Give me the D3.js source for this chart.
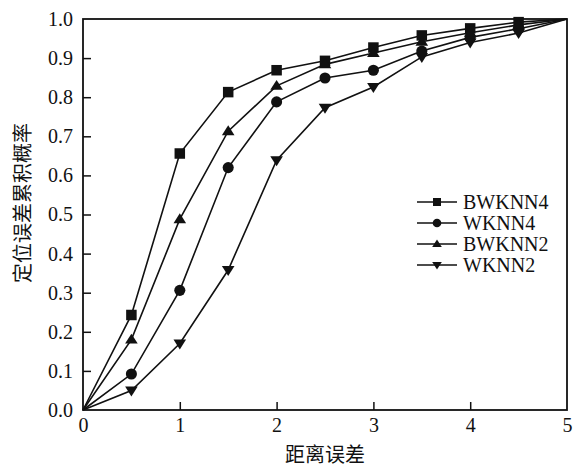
<!DOCTYPE html>
<html>
<head>
<meta charset="utf-8">
<script src="https://cdn.jsdelivr.net/npm/d3@7"></script>
<style>
  body { margin: 0; background: #fff; }
  svg { display: block; font-family: "Liberation Serif", "Times New Roman", "Noto Sans CJK SC", serif; }
</style>
</head>
<body>
<div id="chart"></div>
<script>
// ---- data ----
const distances = [0, 0.5, 1, 1.5, 2, 2.5, 3, 3.5, 4, 4.5, 5];
const bwknn4 = [0, 0.243, 0.656, 0.813, 0.869, 0.893, 0.927, 0.958, 0.976, 0.992, 1.0];
const wknn4  = [0, 0.092, 0.306, 0.620, 0.788, 0.849, 0.869, 0.918, 0.953, 0.975, 1.0];
const bwknn2 = [0, 0.180, 0.488, 0.713, 0.829, 0.884, 0.913, 0.942, 0.965, 0.985, 1.0];
const wknn2  = [0, 0.050, 0.170, 0.358, 0.639, 0.773, 0.826, 0.903, 0.940, 0.964, 1.0];
const seriesNames = ["BWKNN4", "WKNN4", "BWKNN2", "WKNN2"];
const seriesSymbols = ["square", "circle", "triangle", "triangleDown"];
const xTicks = [0, 1, 2, 3, 4, 5];
const yTicks = [0, 0.1, 0.2, 0.3, 0.4, 0.5, 0.6, 0.7, 0.8, 0.9, 1.0];
const xTitle = "距离误差";
const yTitle = "定位误差累积概率";

const series = [bwknn4, wknn4, bwknn2, wknn2].map((vals, i) => ({
    name: seriesNames[i],
    symbol: seriesSymbols[i],
    points: distances.map((d, j) => ({ x: d, y: vals[j] }))
}));

// ---- layout ----
const W = 575, H = 468;
const margin = { top: 19, right: 8, bottom: 58, left: 83 };
const width = W - margin.left - margin.right;
const height = H - margin.top - margin.bottom;

const svg = d3.select("#chart").append("svg")
    .attr("width", W)
    .attr("height", H);

const g = svg.append("g")
    .attr("transform", `translate(${margin.left},${margin.top})`);

const x = d3.scaleLinear().domain([0, 5]).range([0, width]);
const y = d3.scaleLinear().domain([0, 1]).range([height, 0]);

// marker drawing
function marker(sel, type, size) {
    const s = size;
    if (type === "square") {
        sel.append("rect")
            .attr("x", -s / 2).attr("y", -s / 2)
            .attr("width", s).attr("height", s);
    } else if (type === "circle") {
        sel.append("circle").attr("r", s / 2 + 0.3);
    } else if (type === "triangle") {
        const h = s * 0.95;
        sel.append("path")
            .attr("d", `M0,${-h * 0.6}L${s * 0.6},${h * 0.4}L${-s * 0.6},${h * 0.4}Z`);
    } else {
        const h = s * 0.95;
        sel.append("path")
            .attr("d", `M0,${h * 0.6}L${s * 0.6},${-h * 0.4}L${-s * 0.6},${-h * 0.4}Z`);
    }
}

// ---- axes ----
const xAxis = d3.axisBottom(x)
    .tickValues(xTicks)
    .tickSize(-8)
    .tickPadding(8)
    .tickFormat(d3.format("d"));

const yAxis = d3.axisLeft(y)
    .tickValues(yTicks)
    .tickSize(-8)
    .tickPadding(10)
    .tickFormat(d3.format(".1f"));

const gx = g.append("g")
    .attr("transform", `translate(0,${height})`)
    .call(xAxis);
const gy = g.append("g").call(yAxis);

[gx, gy].forEach(a => {
    a.select(".domain").remove();
    a.selectAll(".tick line").attr("stroke", "#111").attr("stroke-width", 1.5);
    a.selectAll(".tick text")
        .attr("fill", "#111")
        .style("font-size", "20px")
        .style("font-family", "'Liberation Serif', 'Times New Roman', serif");
});
// no inner tick marks at the corners
gx.selectAll(".tick line").filter(d => d === 0 || d === 5).remove();
gy.selectAll(".tick line").filter(d => d === 0 || d === 1).remove();

// frame
g.append("rect")
    .attr("x", 0).attr("y", 0)
    .attr("width", width).attr("height", height)
    .attr("fill", "none")
    .attr("stroke", "#111")
    .attr("stroke-width", 1.8);

// ---- lines and markers ----
const line = d3.line().x(d => x(d.x)).y(d => y(d.y));

const sg = g.selectAll(".series")
    .data(series)
    .enter().append("g")
    .attr("class", "series");

sg.append("path")
    .attr("d", d => line(d.points))
    .attr("fill", "none")
    .attr("stroke", "#111")
    .attr("stroke-width", 1.6);

sg.each(function(s) {
    d3.select(this).selectAll(".pt")
        .data(s.points.filter(p => p.x > 0 && p.x < 5))
        .enter().append("g")
        .attr("class", "pt")
        .attr("transform", p => `translate(${x(p.x)},${y(p.y)})`)
        .attr("fill", "#111")
        .each(function() { marker(d3.select(this), s.symbol, 10.5); });
});

// ---- legend ----
const legend = svg.append("g")
    .attr("transform", "translate(417,202)");

const lg = legend.selectAll(".lg")
    .data(series)
    .enter().append("g")
    .attr("class", "lg")
    .attr("transform", (d, i) => `translate(0,${i * 21})`);

lg.append("line")
    .attr("x1", 0).attr("x2", 40)
    .attr("stroke", "#111")
    .attr("stroke-width", 1.6);

lg.append("g")
    .attr("transform", "translate(20,0)")
    .attr("fill", "#111")
    .each(function(d) { marker(d3.select(this), d.symbol, 8); });

lg.append("text")
    .attr("x", 46)
    .attr("dy", "0.34em")
    .attr("fill", "#111")
    .style("font-size", "20px")
    .text(d => d.name);

// ---- axis titles ----
svg.append("text")
    .attr("x", margin.left + width / 2)
    .attr("y", 462)
    .attr("text-anchor", "middle")
    .attr("fill", "#111")
    .style("font-size", "20px")
    .text(xTitle);

svg.append("text")
    .attr("transform", `translate(30,${margin.top + 184}) rotate(-90)`)
    .attr("text-anchor", "middle")
    .attr("fill", "#111")
    .style("font-size", "20px")
    .text(yTitle);
</script>
</body>
</html>
